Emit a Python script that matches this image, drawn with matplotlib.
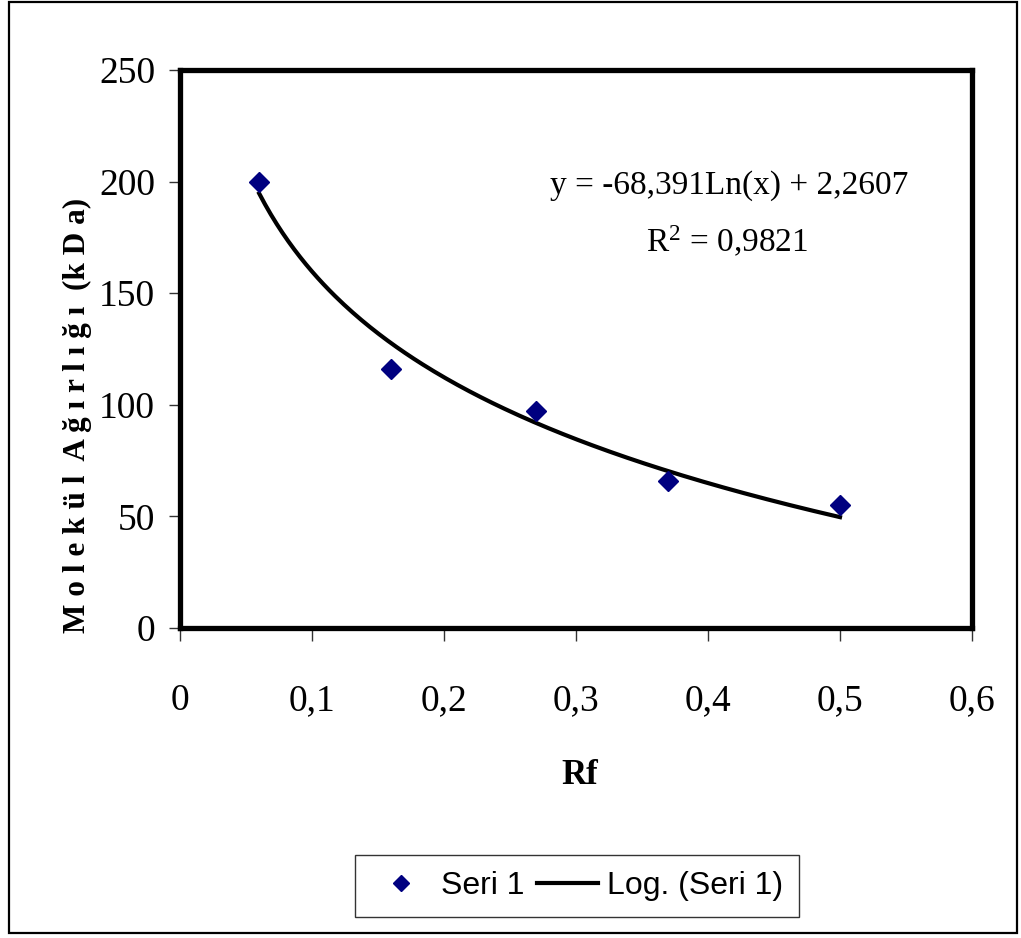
import matplotlib
matplotlib.use("Agg")
import matplotlib.pyplot as plt
import numpy as np
from matplotlib.patches import Rectangle
from matplotlib.lines import Line2D

# Data
rf = [0.06, 0.16, 0.27, 0.37, 0.50]
mw = [200, 116, 97, 66, 55]
# Logarithmic trendline coefficients shown on the chart
coef_a = -68.391
coef_b = 2.2607
x_ticks = [0, 0.1, 0.2, 0.3, 0.4, 0.5, 0.6]
x_tick_labels = ["0", "0,1", "0,2", "0,3", "0,4", "0,5", "0,6"]
y_ticks = [0, 50, 100, 150, 200, 250]
y_tick_labels = ["0", "50", "100", "150", "200", "250"]

serif = "Liberation Serif"
sans = "Liberation Sans"
plt.rcParams["mathtext.fontset"] = "custom"
plt.rcParams["mathtext.rm"] = serif
plt.rcParams["mathtext.it"] = serif + ":italic"
plt.rcParams["mathtext.bf"] = serif + ":bold"

W, H = 1021, 938
fig = plt.figure(figsize=(W / 100, H / 100), dpi=100)

# outer chart border
fig.patches.append(Rectangle((9 / W, 1 - 933 / H), (1017 - 9) / W, (933 - 2) / H,
                             transform=fig.transFigure, fill=False,
                             edgecolor="black", linewidth=1.6))

ax = fig.add_axes([180 / W, 1 - 628 / H, (972 - 180) / W, (628 - 70) / H])
ax.set_xlim(0, 0.6)
ax.set_ylim(0, 250)

tx = np.linspace(min(rf), max(rf), 200)
ty = coef_a * np.log(tx) + coef_b
ax.plot(tx, ty, color="black", linewidth=3.0, zorder=2)
ax.plot(rf, mw, linestyle="none", marker="D", markersize=10,
        color="#000080", markeredgecolor="#000080", zorder=3)

for s in ax.spines.values():
    s.set_linewidth(3.8)
    s.set_color("black")

ax.set_xticks(x_ticks)
ax.set_xticklabels(x_tick_labels, fontfamily=serif, fontsize=27)
ax.set_yticks(y_ticks)
ax.set_yticklabels(y_tick_labels, fontfamily=serif, fontsize=27)
ax.tick_params(axis="x", direction="out", length=9, width=1.0, pad=31, color="#333333")
ax.tick_params(axis="y", direction="out", length=8, width=1.0, pad=10, color="#333333")

fig.text(729 / W, 1 - 186 / H, "y = -68,391Ln(x) + 2,2607",
         ha="center", va="center", fontfamily=serif, fontsize=24)
fig.text(727 / W, 1 - 242 / H, r"R$^{2}$ = 0,9821",
         ha="center", va="center", fontfamily=serif, fontsize=24)

fig.text(77 / W, 1 - 415 / H, "M o l e k ü l  A ğ ı r l ı ğ ı  (k D a)", rotation=90,
         ha="center", va="center", fontfamily=serif, fontsize=22.5, fontweight="bold")
fig.text(580 / W, 1 - 775 / H, "Rf", ha="center", va="center",
         fontfamily=serif, fontsize=25, fontweight="bold")

handles = [Line2D([], [], linestyle="none", marker="D", markersize=10, color="#000080"),
           Line2D([], [], color="black", linewidth=3.0)]
leg = fig.legend(handles, ["Seri 1", "Log. (Seri 1)"], loc="center",
                 bbox_to_anchor=(577 / W, 1 - 886 / H), ncol=2, frameon=True,
                 fancybox=False, prop={"family": sans, "size": 23},
                 handlelength=1.9, handletextpad=0.3, columnspacing=0.4,
                 borderpad=0.5, markerscale=0.85)
leg.get_frame().set_edgecolor("black")
leg.get_frame().set_linewidth(1.0)

fig.savefig("out.png", dpi=100)
